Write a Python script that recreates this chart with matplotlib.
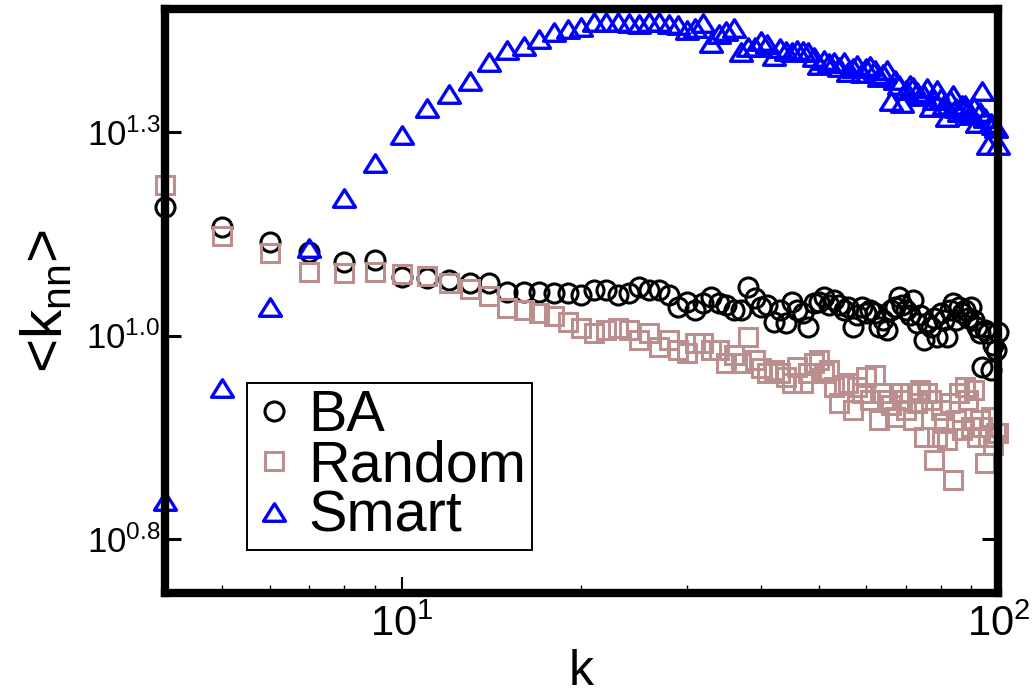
import numpy as np
import matplotlib
matplotlib.use('Agg')
import matplotlib.pyplot as plt
from matplotlib.path import Path
from matplotlib.ticker import FixedLocator, FixedFormatter, NullLocator, NullFormatter

# ---------------- data ----------------
k = np.arange(4, 101)

ba = [16.14, 15.25, 14.62, 14.21, 13.81, 13.89, 13.24, 13.20, 13.13, 13.02,
      13.02, 12.69, 12.69, 12.69, 12.66, 12.66, 12.58, 12.76, 12.76, 12.58,
      12.66, 12.87, 12.76, 12.76, 12.58, 12.16, 12.34, 12.06, 12.31, 12.51,
      12.31, 12.24, 12.06, 12.06, 12.87, 12.48, 12.16, 12.24, 11.66, 12.06,
      11.62, 12.34, 12.06, 11.96, 11.50, 12.31, 12.34, 12.51, 12.24, 12.41,
      12.24, 12.06, 12.16, 11.50, 11.89, 12.16, 11.96, 12.06, 11.96, 11.50,
      11.72, 11.40, 12.06, 12.16, 12.51, 12.24, 12.06, 11.89, 12.41, 11.62,
      11.89, 11.08, 11.62, 11.50, 11.79, 11.18, 11.96, 11.72, 11.18, 12.06,
      12.31, 11.72, 12.16, 11.96, 12.06, 11.79, 12.16, 11.72, 11.50, 11.30,
      10.27, 11.40, 11.30, 10.18, 10.92, 10.77, 11.34]

random_ = [17.17, 14.87, 14.17, 13.43, 13.39, 13.43, 13.35, 13.28, 13.02, 12.80,
           12.55, 12.13, 12.06, 11.96, 11.86, 11.66, 11.46, 11.30, 11.40, 11.46,
           11.40, 11.08, 11.30, 10.86, 11.08, 10.77, 10.68, 10.99, 10.99, 10.77,
           10.77, 10.38, 10.62, 10.38, 11.18, 10.47, 10.24, 10.09, 10.18, 10.09,
           9.98, 9.81, 10.27, 9.81, 10.09, 10.38, 10.47, 10.09, 10.18, 9.70,
           9.27, 9.76, 9.81, 9.09, 9.70, 9.54, 9.98, 9.35, 10.04, 8.84,
           9.54, 9.35, 9.22, 8.91, 9.54, 9.35, 9.09, 9.54, 8.84, 9.27,
           9.62, 8.42, 9.54, 9.35, 7.89, 8.42, 9.09, 8.76, 8.35, 9.27,
           7.46, 8.84, 9.54, 8.59, 9.70, 9.35, 8.66, 9.62, 8.42, 8.84,
           8.66, 7.82, 8.42, 8.91, 8.23, 8.52, 8.52]

smart = [7.03, 9.67, 12.16, 14.37, 16.55, 18.28, 19.78, 21.35, 22.22, 23.04,
         24.32, 25.16, 25.45, 25.95, 26.47, 26.70, 26.85, 27.23, 27.23, 27.23,
         27.15, 27.08, 27.23, 27.23, 27.08, 27.00, 26.62, 26.77, 27.15, 25.66,
         26.32, 26.55, 26.77, 25.02, 25.37, 25.37, 25.81, 25.59, 24.74, 25.30,
         25.09, 25.02, 25.16, 25.09, 25.02, 24.67, 24.12, 24.46, 24.25, 24.32,
         23.98, 24.32, 23.65, 23.91, 24.12, 23.58, 23.91, 24.05, 23.78, 23.31,
         23.51, 23.78, 21.78, 23.11, 22.79, 21.66, 22.47, 22.79, 22.66, 22.34,
         22.09, 22.15, 22.60, 21.41, 21.84, 22.47, 21.96, 21.53, 20.82, 21.84,
         22.15, 21.35, 21.11, 21.53, 21.53, 21.23, 20.93, 21.41, 20.47, 21.11,
         22.40, 20.76, 19.23, 20.47, 20.35, 20.18, 19.23]

series_labels = ['BA', 'Random', 'Smart']

x_major_ticks = [10, 100]
x_major_labels = ['$10^{1}$', '$10^{2}$']
x_minor_ticks = [5, 6, 7, 8, 9, 20, 30, 40, 50, 60, 70, 80, 90]
y_tick_exponents = [0.8, 1.05, 1.3]
y_tick_labels = ['$10^{0.8}$', '$10^{1.0}$', '$10^{1.3}$']
x_limits = (4, 100)
y_limit_exponents = (0.7343, 1.4511)

# ---------------- style ----------------
plt.rcParams['font.family'] = ['Liberation Sans', 'DejaVu Sans']
plt.rcParams['mathtext.fontset'] = 'custom'
plt.rcParams['mathtext.rm'] = 'Liberation Sans'
plt.rcParams['mathtext.it'] = 'Liberation Sans:italic'
plt.rcParams['mathtext.bf'] = 'Liberation Sans:bold'

fig = plt.figure(figsize=(10.32, 6.97), dpi=100)
ax = fig.add_axes([0.1594, 0.1499, 0.8081, 0.8372])
ax.set_xscale('log')
ax.set_yscale('log')

tri = Path([(0, 0.8), (-1, -0.8), (1, -0.8), (0, 0.8)],
           [Path.MOVETO, Path.LINETO, Path.LINETO, Path.CLOSEPOLY])

ax.plot(k, ba, ls='none', marker='o', ms=13.7, mfc='none', mec='black',
        mew=2.2, clip_on=False, label=series_labels[0])
ax.plot(k, random_, ls='none', marker='s', ms=13.0, mfc='none', mec='#bc8f8f',
        mew=2.2, clip_on=False, label=series_labels[1])
ax.plot(k, smart, ls='none', marker=tri, ms=15.8, mfc='none', mec='#0000ff',
        mew=2.4, clip_on=False, label=series_labels[2])

ax.set_xlim(*x_limits)
ax.set_ylim(10 ** y_limit_exponents[0], 10 ** y_limit_exponents[1])

for s in ax.spines.values():
    s.set_linewidth(6)
    s.set_color('black')

ax.xaxis.set_major_locator(FixedLocator(x_major_ticks))
ax.xaxis.set_major_formatter(FixedFormatter(x_major_labels))
ax.xaxis.set_minor_locator(FixedLocator(x_minor_ticks))
ax.xaxis.set_minor_formatter(NullFormatter())
ax.yaxis.set_major_locator(FixedLocator([10 ** e for e in y_tick_exponents]))
ax.yaxis.set_major_formatter(FixedFormatter(y_tick_labels))
ax.yaxis.set_minor_locator(NullLocator())

ax.tick_params(axis='y', which='major', direction='in', length=11.5, width=2.2,
               left=True, right=True, labelsize=25, pad=3)
ax.tick_params(axis='x', which='major', direction='in', length=11.5, width=1.5,
               top=False, bottom=True, labelsize=30, pad=9)
ax.tick_params(axis='x', which='minor', direction='in', length=6, width=1.0,
               top=False, bottom=True)

ax.set_xlabel('k', fontsize=36)
ax.xaxis.set_label_coords(0.5, -0.096)
ax.set_ylabel('<k$_{\\mathregular{nn}}$>', fontsize=42)
ax.yaxis.set_label_coords(-0.108, 0.5)

leg = ax.legend(loc='upper left', bbox_to_anchor=(247 / 1032, 1 - 383 / 697),
                bbox_transform=fig.transFigure, borderaxespad=0, fontsize=41.5,
                frameon=True, fancybox=False, edgecolor='black', framealpha=1,
                borderpad=0.1, labelspacing=-0.06, handlelength=0.72,
                handletextpad=0.25, numpoints=1)
leg.get_frame().set_linewidth(1.4)

fig.savefig('out.png', dpi=100)
